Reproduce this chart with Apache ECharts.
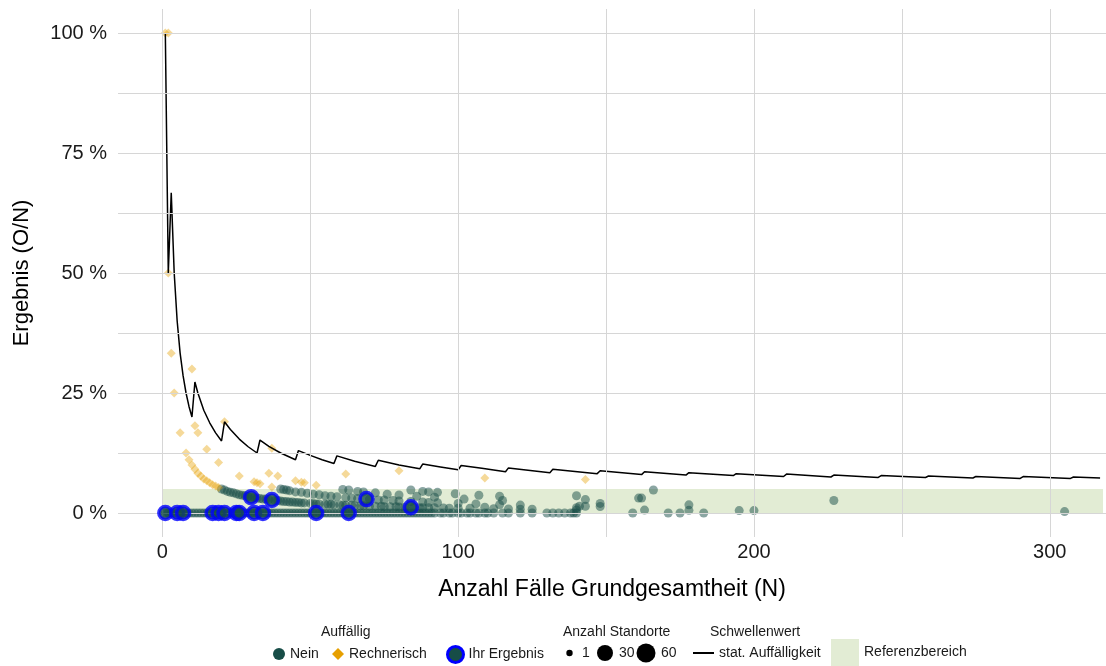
<!DOCTYPE html>
<html>
<head>
<meta charset="utf-8">
<script src="https://cdn.jsdelivr.net/npm/echarts@6/dist/echarts.min.js"></script>
<style>
  html, body { margin: 0; padding: 0; background: #fff; }
  #chart { width: 1106px; height: 666px; }
</style>
</head>
<body>
<div id="chart"></div>
<script>
// tick labels
const xTicks = [0, 100, 200, 300]
const yTicks = [0, 25, 50, 75, 100]
const xGridLines = [0, 50, 100, 150, 200, 250, 300]
const yGridLines = [0, 12.5, 25, 37.5, 50, 62.5, 75, 87.5, 100]

// Referenzbereich (0 - 5 %)
const referenzX = [0, 318]
const referenzY = [0, 5]

// Schwellenwert: stat. Auffälligkeit [N, %]
const schwelle = [
  [1, 100], [2, 50], [3, 66.7], [4, 50], [5, 40], [6, 33.3], [7, 28.6], [8, 25], [9, 22.2], [10, 20],
  [11, 27.3], [12, 25], [14, 21.4], [16, 18.8], [18, 16.7], [20, 15],
  [21, 19], [23, 17.4], [26, 15.4], [29, 13.8], [32, 12.5],
  [33, 15.2], [36, 13.9], [40, 12.5], [45, 11.1],
  [46, 13], [50, 12], [54, 11.1], [58, 10.3],
  [59, 11.9], [65, 10.8], [72, 9.7],
  [73, 11], [80, 10], [87, 9.2],
  [88, 10.2], [94, 9.6], [100, 9],
  [101, 9.9], [108, 9.3], [116, 8.6],
  [117, 9.4], [131, 8.4],
  [132, 9.1], [147, 8.2],
  [148, 8.8], [162, 8.0],
  [163, 8.6], [177, 7.9],
  [178, 8.4], [193, 7.8],
  [194, 8.2], [210, 7.6],
  [211, 8.1], [226, 7.5],
  [227, 7.9], [242, 7.4],
  [243, 7.8], [258, 7.4],
  [259, 7.7], [274, 7.3],
  [275, 7.6], [290, 7.2],
  [291, 7.6], [307, 7.2],
  [308, 7.5], [317, 7.3]
]

// Auffällig: Nein, Ergebnis 0 % [N]
const neinNullN = [
  1, 2, 3, 4, 5, 6, 7, 8, 9, 10, 11, 12, 13, 14, 15, 16, 17, 18, 19, 20,
  21, 22, 23, 24, 25, 26, 27, 28, 29, 30, 31, 32, 33, 34, 35, 36, 37, 38, 39, 40,
  41, 42, 43, 44, 45, 46, 47, 48, 49, 50, 51, 52, 53, 54, 55, 56, 57, 58, 59, 60,
  61, 62, 63, 64, 65, 66, 67, 68, 69, 70, 71, 72, 73, 74, 75, 76, 77, 78, 79, 80,
  81, 82, 83, 84, 85, 86, 87, 88, 89, 90, 91, 92, 94, 95, 97, 98, 100, 101, 103, 104,
  106, 107, 109, 110, 112, 115, 117, 121, 125, 130, 132, 134, 136, 138, 139, 140,
  159, 171, 175, 183
]

// Auffällig: Nein, Ergebnis > 0 % [N, %]
const neinPunkte = [
  [20, 5.0], [21, 4.8], [22, 4.5], [23, 4.3], [24, 4.2], [25, 4.0], [26, 3.8], [27, 3.7], [28, 3.6], [29, 3.4],
  [30, 3.3], [31, 3.2], [32, 3.1], [33, 3.0], [34, 2.9], [35, 2.9], [36, 2.8], [38, 2.6], [39, 2.6], [40, 2.5],
  [41, 2.4], [42, 2.4], [43, 2.3], [44, 2.3], [45, 2.2], [46, 2.2], [47, 2.1], [48, 2.1], [50, 2.0], [51, 2.0],
  [52, 1.9], [53, 1.9], [55, 1.8], [56, 1.8], [57, 1.8], [58, 1.7], [60, 1.7], [61, 1.6], [62, 1.6], [64, 1.6],
  [65, 1.5], [67, 1.5], [68, 1.5], [70, 1.4], [72, 1.4], [74, 1.4], [75, 1.3], [77, 1.3], [79, 1.3], [80, 1.25],
  [82, 1.2], [85, 1.2], [87, 1.1], [88, 1.1], [90, 1.1], [92, 1.1], [95, 1.05], [97, 1.0], [100, 1.0], [104, 1.0],
  [109, 1.2], [112, 0.9], [117, 0.85], [121, 0.8], [125, 0.8], [140, 0.6], [163, 0.6], [178, 0.56], [195, 0.5], [200, 0.5], [305, 0.3],
  [40, 5.0], [41, 4.9], [42, 4.8], [43, 4.65], [45, 4.4], [47, 4.3], [49, 4.1], [51, 3.9], [53, 3.8], [55, 3.6],
  [57, 3.5], [59, 3.4], [62, 3.2], [64, 3.1], [66, 3.0], [70, 2.9], [73, 2.7], [75, 2.7], [78, 2.6], [80, 2.5],
  [84, 2.4], [88, 2.3], [90, 2.2], [93, 2.15], [100, 2.0], [106, 1.9], [114, 1.75], [121, 1.65], [141, 1.4], [143, 1.4], [148, 1.35],
  [61, 4.9], [63, 4.8], [66, 4.5], [68, 4.4], [72, 4.2], [76, 3.9], [80, 3.75], [86, 3.5], [92, 3.3], [102, 2.9],
  [115, 2.6], [148, 2.0], [178, 1.7], [140, 1.1],
  [84, 4.8], [88, 4.5], [90, 4.4], [93, 4.3], [99, 4.0], [107, 3.7], [114, 3.5], [143, 2.8],
  [140, 3.6], [161, 3.1], [162, 3.1], [166, 4.8], [227, 2.6]
]

// Auffällig: Rechnerisch [N, %]
const rechnerisch = [
  [1, 100], [2, 100], [2, 50], [3, 33.3], [4, 25], [6, 16.7], [8, 12.5], [9, 11.1], [10, 30], [10, 10],
  [11, 18.2], [11, 9.1], [12, 16.7], [12, 8.3], [13, 7.7], [14, 7.1], [15, 13.3], [15, 6.7], [16, 6.3], [17, 5.9],
  [18, 5.6], [19, 5.3], [19, 10.5], [21, 19], [26, 7.7], [31, 6.5], [32, 6.3], [33, 6.1], [36, 8.3], [37, 13.5],
  [37, 5.4], [39, 7.7], [45, 6.7], [47, 6.4], [48, 6.3], [52, 5.8], [62, 8.1], [80, 8.8], [109, 7.3], [143, 7.0]
]

// Ihr Ergebnis [N, %]
const ihrErgebnis = [
  [1, 0], [5, 0], [7, 0], [17, 0], [19, 0], [21, 0], [25, 0], [26, 0], [31, 0], [34, 0],
  [52, 0], [63, 0], [30, 3.3], [37, 2.7], [69, 2.9], [84, 1.2]
]

const font = 'Liberation Sans, Arial, sans-serif'
const gruen = '#174d47'
const orange = '#E69F00'

let chart = echarts.init(document.getElementById('chart'), null, { renderer: 'canvas' })

let legendText = { fontSize: 14, color: '#1a1a1a', fontFamily: font }

let option = {
  animation: false,
  textStyle: { fontFamily: font },
  grid: { left: 118, right: 0, top: 9, bottom: 129 },
  xAxis: {
    type: 'value',
    min: -15,
    max: 319,
    name: 'Anzahl Fälle Grundgesamtheit (N)',
    nameLocation: 'middle',
    nameGap: 41,
    nameTextStyle: { fontSize: 23, color: '#000' },
    splitLine: { show: false },
    axisLine: { show: false },
    axisTick: { show: false },
    axisLabel: { customValues: xTicks, fontSize: 20, color: '#1a1a1a', margin: 5 }
  },
  yAxis: {
    type: 'value',
    min: -5,
    max: 105,
    name: 'Ergebnis (O/N)',
    nameLocation: 'middle',
    nameGap: 85,
    nameTextStyle: { fontSize: 22, color: '#000' },
    splitLine: { show: false },
    axisLine: { show: false },
    axisTick: { show: false },
    axisLabel: {
      customValues: yTicks,
      fontSize: 20,
      color: '#1a1a1a',
      margin: 11,
      formatter: v => v + ' %'
    }
  },
  legend: [
    {
      data: [{ name: 'Nein', icon: 'circle', itemStyle: { color: gruen, opacity: 1 } }],
      left: 273, top: 647, itemWidth: 12, itemHeight: 12, padding: 0,
      selectedMode: false, textStyle: legendText
    },
    {
      data: [{ name: 'Rechnerisch', icon: 'diamond', itemStyle: { color: orange, opacity: 1 } }],
      left: 332, top: 647, itemWidth: 12, itemHeight: 12, padding: 0,
      selectedMode: false, textStyle: legendText
    },
    {
      data: [{ name: 'Ihr Ergebnis', icon: 'circle', itemStyle: { color: gruen, borderColor: '#0000ff', borderWidth: 3, opacity: 1 } }],
      left: 446, top: 645, itemWidth: 16, itemHeight: 16, padding: 0,
      selectedMode: false, textStyle: legendText
    },
    {
      data: [{ name: 'stat. Auffälligkeit', icon: 'rect', itemStyle: { color: '#000' } }],
      left: 693, top: 646, itemWidth: 21, itemHeight: 2, padding: 0,
      selectedMode: false, textStyle: legendText
    },
    {
      data: [{ name: 'Referenzbereich', icon: 'rect', itemStyle: { color: '#e2ecd4' } }],
      left: 831, top: 639, itemWidth: 28, itemHeight: 27, padding: 0,
      selectedMode: false, textStyle: legendText
    }
  ],
  graphic: [
    { type: 'text', left: 321, top: 625, style: { text: 'Auffällig', font: '14px ' + font, fill: '#1a1a1a' } },
    { type: 'text', left: 563, top: 625, style: { text: 'Anzahl Standorte', font: '14px ' + font, fill: '#1a1a1a' } },
    { type: 'text', left: 710, top: 625, style: { text: 'Schwellenwert', font: '14px ' + font, fill: '#1a1a1a' } },
    // Anzahl Standorte: 1, 30, 60
    { type: 'circle', shape: { cx: 569.5, cy: 653, r: 3.2 }, style: { fill: '#000' } },
    { type: 'text', x: 582, y: 653, style: { text: '1', font: '14px ' + font, fill: '#1a1a1a', verticalAlign: 'middle' } },
    { type: 'circle', shape: { cx: 605, cy: 653, r: 8 }, style: { fill: '#000' } },
    { type: 'text', x: 619, y: 653, style: { text: '30', font: '14px ' + font, fill: '#1a1a1a', verticalAlign: 'middle' } },
    { type: 'circle', shape: { cx: 646, cy: 653, r: 9.5 }, style: { fill: '#000' } },
    { type: 'text', x: 661, y: 653, style: { text: '60', font: '14px ' + font, fill: '#1a1a1a', verticalAlign: 'middle' } }
  ],
  series: [
    {
      name: 'Referenzbereich',
      type: 'line',
      z: 0,
      data: [],
      itemStyle: { color: '#e2ecd4' },
      markArea: {
        silent: true,
        itemStyle: { color: '#e2ecd4' },
        data: [[{ xAxis: referenzX[0], yAxis: referenzY[0] }, { xAxis: referenzX[1], yAxis: referenzY[1] }]]
      }
    },
    {
      name: 'gitter',
      type: 'line',
      z: 1,
      data: [],
      markLine: {
        silent: true,
        symbol: ['none', 'none'],
        label: { show: false },
        lineStyle: { color: '#d6d6d6', width: 1, type: 'solid' },
        data: yGridLines.map(v => ({ yAxis: v })).concat(xGridLines.map(v => ({ xAxis: v })))
      }
    },
    {
      name: 'Nein',
      type: 'scatter',
      z: 3,
      symbolSize: 9,
      itemStyle: { color: gruen, opacity: 0.5 },
      data: neinNullN.map(n => [n, 0]).concat(neinPunkte)
    },
    {
      name: 'Rechnerisch',
      type: 'scatter',
      z: 3,
      symbol: 'diamond',
      symbolSize: 9,
      itemStyle: { color: orange, opacity: 0.4 },
      data: rechnerisch
    },
    {
      name: 'stat. Auffälligkeit',
      type: 'line',
      z: 4,
      symbol: 'none',
      itemStyle: { color: '#000' },
      lineStyle: { color: '#000', width: 1.5 },
      data: schwelle
    },
    {
      name: 'Ihr Ergebnis',
      type: 'scatter',
      z: 5,
      symbolSize: 13,
      itemStyle: { color: gruen, borderColor: '#0000ff', borderWidth: 3.5 },
      data: ihrErgebnis
    }
  ]
}

chart.setOption(option)
</script>
</body>
</html>
